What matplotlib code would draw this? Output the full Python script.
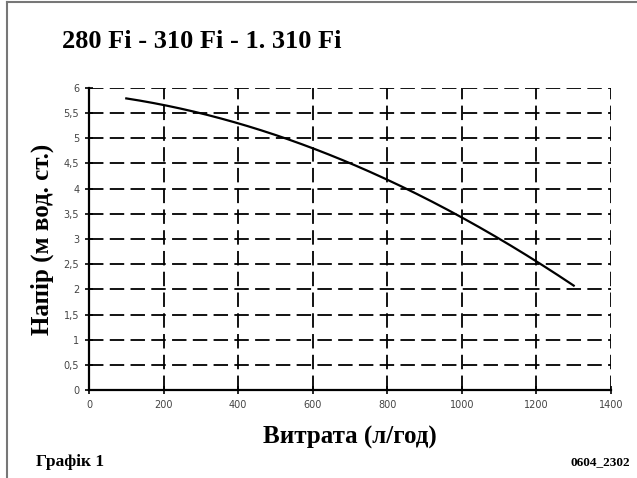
import numpy as np
import matplotlib.pyplot as plt
from matplotlib.lines import Line2D

# pump head curve
flow = [100, 200, 400, 600, 800, 1000, 1200, 1300]
head = [5.8, 5.65, 5.3, 4.82, 4.15, 3.45, 2.54, 2.08]

xticks = np.arange(0, 1401, 200)
yticks = np.arange(0, 6.01, 0.5)
ylabels = ['0', '0,5', '1', '1,5', '2', '2,5', '3', '3,5', '4', '4,5', '5', '5,5', '6']

fig = plt.figure(figsize=(6.37, 4.78), dpi=100)
ax = fig.add_axes([89 / 637, 1 - 390 / 478, 522 / 637, 302 / 478])

# smooth curve through read points
fx = np.linspace(flow[0], flow[-1], 200)
coef = np.polyfit(flow, head, 3)
ax.plot(fx, np.polyval(coef, fx), color='black', lw=1.6)

ax.set_xlim(0, 1400)
ax.set_ylim(0, 6)
ax.set_xticks(xticks)
ax.set_yticks(yticks)
ax.set_yticklabels(ylabels)
ax.grid(True, color='black', linestyle=(0, (8, 3.5)), lw=1.3)
for s in ['top', 'right']:
    ax.spines[s].set_visible(False)
for s in ['left', 'bottom']:
    ax.spines[s].set_linewidth(1.6)
ax.tick_params(direction='inout', length=6, width=1.2, labelsize=7, labelcolor='#444444', pad=4)

serif = ['Liberation Serif', 'DejaVu Serif']
ax.set_xlabel('Витрата (л/год)', family=serif, fontweight='bold', fontsize=18, labelpad=12)
ax.set_ylabel('Напір (м вод. ст.)', family=serif, fontweight='bold', fontsize=18, labelpad=7)

fig.text(62 / 637, 1 - 42 / 478, '280 Fi - 310 Fi - 1. 310 Fi', family=serif,
         fontweight='bold', fontsize=19, va='center')
fig.text(36 / 637, 1 - 462 / 478, 'Графік 1', family=serif, fontweight='bold',
         fontsize=12.5, va='center')
fig.text(630 / 637, 1 - 462 / 478, '0604_2302', family=serif, fontweight='bold',
         fontsize=9.5, va='center', ha='right')

# frame on the left and top edges
fig.add_artist(Line2D([7 / 637, 7 / 637], [0, 1 - 2 / 478], color='#777777', lw=1.5))
fig.add_artist(Line2D([7 / 637, 1], [1 - 2 / 478, 1 - 2 / 478], color='#777777', lw=1.5))

fig.savefig('out.png', dpi=100)
